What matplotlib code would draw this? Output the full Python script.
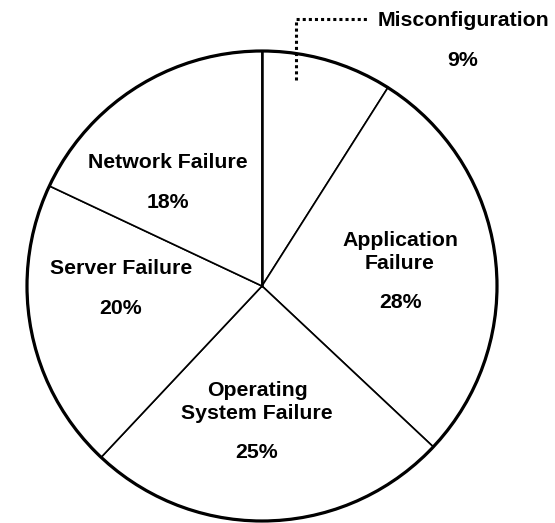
import matplotlib.pyplot as plt
from matplotlib.patches import Circle

plt.rcParams['font.family'] = ['Liberation Sans', 'DejaVu Sans']

labels = ["Misconfiguration", "Application\nFailure", "Operating\nSystem Failure",
          "Server Failure", "Network Failure"]
shares = [9, 28, 25, 20, 18]

W, H = 555, 523
fig = plt.figure(figsize=(W / 100, H / 100), dpi=100)
ax = fig.add_axes([0, 0, 1, 1])

cx, cy, r = 262, H - 286, 235
ax.pie(shares, startangle=90, counterclock=False, center=(cx, cy), radius=r,
       colors=['white'] * len(shares),
       wedgeprops=dict(edgecolor='black', linewidth=1.2))
ax.add_patch(Circle((cx, cy), r, fill=False, edgecolor='black', linewidth=2.3))
ax.plot([cx, cx], [cy, cy + r], color='black', linewidth=1.8)

fs = 15.3
font = dict(fontsize=fs, fontweight='bold', ha='center', va='center')

# label positions in pixel coords (x, y from top): name centre, percent centre
name_pos = [None, (400, 252), (257, 402), (121, 269), (168, 163)]
pct_y = [None, 302, 452, 308, 202]
for lab, s, pos, py in zip(labels, shares, name_pos, pct_y):
    if pos is None:
        continue
    ax.text(pos[0], H - pos[1], lab, linespacing=1.25, **font)
    ax.text(pos[0], H - py, f"{s}%", **font)

# misconfiguration callout
ax.plot([296, 296, 368], [H - 80, H - 19, H - 19], color='black',
        linewidth=2.2, linestyle=(0, (1, 1)))
ax.text(378, H - 20, labels[0], fontsize=fs, fontweight='bold', ha='left', va='center')
ax.text(463, H - 61, f"{shares[0]}%", **font)

ax.set_xlim(0, W)
ax.set_ylim(0, H)
ax.set_aspect('equal')
ax.axis('off')

fig.savefig("out.png", dpi=100)
